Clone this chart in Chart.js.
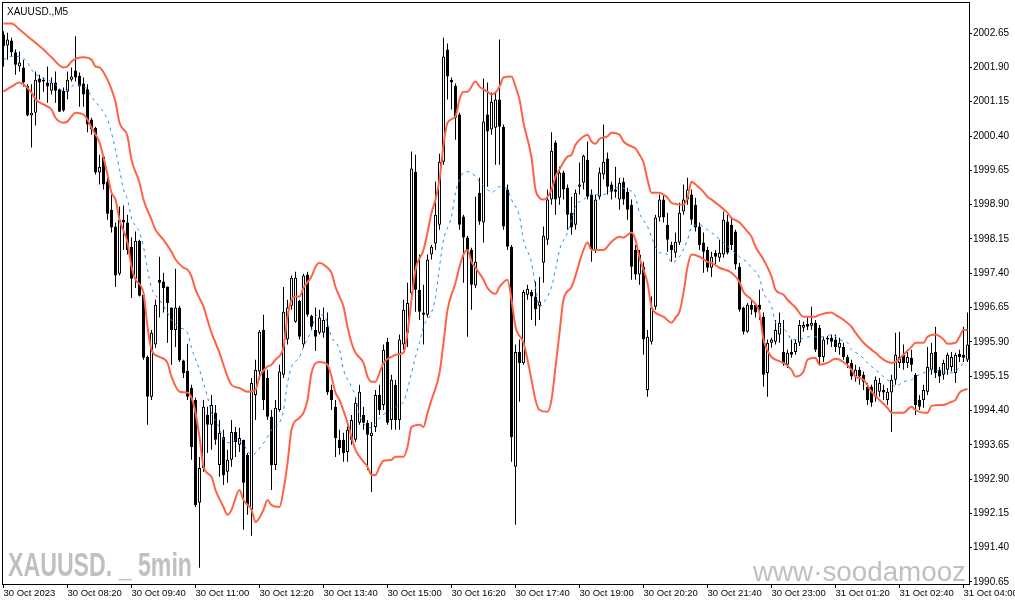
<!DOCTYPE html>
<html>
<head>
<meta charset="utf-8">
<script src="https://cdn.jsdelivr.net/npm/chart.js@4/dist/chart.umd.min.js"></script>
<style>
  html, body { margin: 0; padding: 0; background: #fff; }
</style>
</head>
<body>
<canvas id="goldChart" width="1015" height="605"></canvas>
<script>
// XAUUSD M5 candles, one entry per bar (30 Oct 07:00 -> 31 Oct 04:05)
const opens = [
  2002.62, 2002.38, 2002.49, 2002.23, 2001.92, 2001.90, 2001.50, 2000.85, 2000.91, 2001.66,
  2001.63, 2001.57, 2001.39, 2001.57, 2001.42, 2001.39, 2001.37, 2001.63, 2001.83, 2001.72,
  2001.55, 2001.42, 2000.76, 2000.58, 1999.60, 1999.95, 1999.40, 1998.79, 1998.42, 1997.39,
  1998.57, 1998.51, 1997.98, 1997.28, 1998.11, 1996.93, 1995.57, 1994.70, 1995.84, 1997.26,
  1997.22, 1997.11, 1996.65, 1996.16, 1996.65, 1995.49, 1995.27, 1994.89, 1994.63, 1992.38,
  1993.14, 1994.30, 1994.09, 1994.35, 1993.21, 1993.82, 1993.06, 1993.32, 1993.93, 1993.65,
  1993.76, 1993.43, 1992.23, 1994.74, 1995.25, 1996.16, 1995.11, 1994.26, 1993.21, 1994.41,
  1995.18, 1995.95, 1996.69, 1996.34, 1996.80, 1995.84, 1997.37, 1996.47, 1996.16, 1996.10,
  1996.10, 1996.23, 1994.85, 1994.48, 1993.76, 1993.76, 1993.49, 1993.76, 1993.76, 1994.13,
  1994.30, 1994.13, 1993.84, 1994.04, 1994.74, 1994.52, 1995.90, 1994.19, 1994.96, 1994.19,
  1995.84, 1996.10, 1996.97, 1999.62, 1997.04, 1996.54, 1996.49, 1997.81, 1998.05, 1998.46,
  1999.84, 2002.29, 2001.63, 2001.50, 2000.87, 1998.64, 1998.18, 1997.91, 1997.13, 1999.16,
  1998.51, 2000.87, 2000.54, 2000.58, 2001.20, 2000.60, 1999.23, 1997.98, 1993.17, 1995.68,
  1995.44, 1996.93, 1996.99, 1996.89, 1996.69, 1997.63, 1998.13, 1999.01, 2000.26, 1999.05,
  1999.60, 1999.27, 1998.72, 1998.46, 1999.29, 1999.38, 1999.88, 1999.12, 1997.91, 1999.07,
  1999.56, 1999.91, 1999.34, 1999.23, 1999.01, 1999.40, 1999.18, 1998.90, 1997.91, 1997.37,
  1997.54, 1994.85, 1995.90, 1996.67, 1998.62, 1999.01, 1998.46, 1998.02, 1997.85, 1998.07,
  1998.75, 1999.01, 1999.12, 1998.90, 1998.42, 1998.07, 1997.91, 1997.52, 1997.85, 1997.74,
  1997.81, 1998.53, 1998.46, 1998.31, 1997.54, 1996.65, 1996.12, 1996.71, 1996.71, 1996.71,
  1996.45, 1995.22, 1995.88, 1995.90, 1996.06, 1995.68, 1995.40, 1995.68, 1995.68, 1995.88,
  1996.21, 1996.29, 1996.25, 1996.32, 1996.21, 1995.57, 1995.99, 1995.99, 1995.95, 1995.77,
  1995.79, 1995.57, 1995.44, 1995.14, 1995.29, 1995.18, 1994.92, 1994.92, 1994.70, 1994.81,
  1994.85, 1994.63, 1994.79, 1995.07, 1995.44, 1995.62, 1995.44, 1995.55, 1995.18, 1994.63,
  1994.63, 1994.81, 1995.29, 1995.68, 1995.29, 1995.18, 1995.29, 1995.35, 1995.22, 1995.64,
  1995.62, 1995.51
];
const highs = [
  2002.69, 2002.66, 2002.55, 2002.29, 2002.25, 2002.07, 2001.53, 2001.53, 2001.81, 2001.74,
  2001.68, 2001.92, 2001.68, 2001.81, 2001.44, 2001.46, 2001.81, 2001.90, 2002.58, 2001.79,
  2001.68, 2001.53, 2000.80, 2000.60, 1999.99, 1999.99, 1999.49, 1999.12, 1998.51, 1998.86,
  1998.88, 1998.68, 1998.18, 1998.31, 1998.13, 1996.95, 1995.60, 1996.16, 1996.82, 1997.76,
  1997.41, 1997.11, 1996.65, 1997.50, 1996.69, 1995.51, 1995.86, 1994.96, 1994.68, 1993.38,
  1994.63, 1994.48, 1994.74, 1994.52, 1994.19, 1993.98, 1993.54, 1994.19, 1994.04, 1994.02,
  1993.76, 1993.47, 1995.11, 1995.51, 1996.16, 1996.49, 1995.29, 1994.41, 1994.63, 1995.40,
  1997.10, 1996.82, 1997.35, 1997.43, 1996.82, 1997.39, 1997.43, 1996.49, 1996.65, 1996.60,
  1996.65, 1996.54, 1994.96, 1994.63, 1993.98, 1993.91, 1994.06, 1994.30, 1994.68, 1994.96,
  1994.48, 1994.19, 1994.15, 1994.85, 1994.96, 1995.84, 1995.99, 1995.18, 1995.07, 1996.06,
  1996.82, 1997.19, 2000.06, 1999.99, 1997.81, 1997.15, 1997.81, 1998.02, 1999.40, 2000.01,
  2002.55, 2002.42, 2001.68, 2001.55, 2000.91, 1998.68, 1998.22, 1997.96, 1999.07, 1999.49,
  2001.66, 2001.57, 2001.35, 2001.35, 2002.51, 2000.65, 1999.34, 1998.02, 1995.84, 1995.95,
  1997.04, 1997.15, 1997.04, 1997.22, 1997.32, 1998.42, 1999.23, 2000.48, 2000.30, 1999.73,
  1999.64, 1999.34, 1999.07, 1999.23, 1999.82, 1999.99, 2000.28, 1999.23, 1999.12, 1999.71,
  2000.65, 2000.04, 1999.40, 1999.73, 1999.49, 1999.49, 1999.27, 1999.01, 1998.02, 1997.91,
  1997.65, 1996.16, 1996.89, 1998.68, 1999.12, 1999.12, 1998.72, 1998.09, 1998.29, 1998.94,
  1999.34, 1999.49, 1999.23, 1999.05, 1998.51, 1998.29, 1997.98, 1997.87, 1997.91, 1998.13,
  1998.75, 1998.68, 1998.61, 1998.35, 1997.63, 1996.67, 1996.75, 1996.82, 1996.75, 1997.04,
  1996.54, 1995.95, 1995.99, 1996.38, 1996.54, 1996.38, 1995.73, 1995.95, 1995.95, 1996.38,
  1996.34, 1996.43, 1996.67, 1996.38, 1996.27, 1996.01, 1996.03, 1996.06, 1996.06, 1995.99,
  1995.88, 1995.62, 1995.51, 1995.40, 1995.35, 1995.25, 1995.00, 1994.96, 1995.14, 1995.11,
  1994.96, 1994.89, 1995.18, 1996.10, 1996.12, 1995.84, 1995.73, 1995.73, 1995.22, 1994.74,
  1994.96, 1995.79, 1995.88, 1996.23, 1995.35, 1995.51, 1995.66, 1995.68, 1995.66, 1995.73,
  1996.23, 1996.54
];
const lows = [
  2001.92, 2002.07, 2002.14, 2001.74, 2001.81, 2001.48, 2000.83, 2000.15, 2000.63, 2001.20,
  2001.37, 2001.13, 2001.31, 2001.13, 2000.93, 2000.93, 2001.20, 2001.59, 2001.59, 2001.04,
  2001.04, 2000.48, 2000.43, 1999.56, 1999.34, 1999.23, 1998.57, 1998.29, 1997.10, 1997.35,
  1997.91, 1997.81, 1996.86, 1997.08, 1996.89, 1995.51, 1994.09, 1994.63, 1995.77, 1996.43,
  1996.54, 1995.88, 1995.40, 1995.79, 1995.46, 1995.11, 1994.63, 1993.32, 1992.29, 1990.96,
  1993.06, 1993.47, 1993.54, 1993.65, 1992.95, 1992.77, 1992.82, 1993.17, 1993.38, 1993.49,
  1991.79, 1992.12, 1991.66, 1994.19, 1995.07, 1994.41, 1994.19, 1992.66, 1993.10, 1994.37,
  1995.11, 1995.84, 1996.60, 1996.32, 1995.95, 1995.77, 1996.45, 1996.16, 1995.70, 1996.06,
  1995.99, 1994.74, 1994.41, 1993.38, 1993.43, 1993.28, 1993.28, 1993.65, 1993.71, 1994.09,
  1993.98, 1993.10, 1992.62, 1993.93, 1994.30, 1994.41, 1994.09, 1993.98, 1993.98, 1993.98,
  1995.73, 1995.79, 1996.82, 1996.56, 1996.38, 1995.84, 1996.43, 1997.70, 1997.91, 1998.35,
  1999.77, 2001.20, 2000.98, 2000.32, 1998.35, 1997.19, 1996.01, 1996.60, 1997.08, 1998.46,
  1998.07, 1999.29, 2000.43, 1999.77, 1999.77, 1998.35, 1997.91, 1993.28, 1991.90, 1994.59,
  1995.40, 1996.82, 1996.38, 1996.25, 1996.38, 1997.19, 1998.02, 1998.90, 1998.68, 1998.90,
  1999.01, 1998.35, 1998.24, 1998.35, 1999.12, 1999.23, 1999.01, 1997.65, 1997.85, 1999.01,
  1999.45, 1999.12, 1999.01, 1999.05, 1998.79, 1998.90, 1998.57, 1997.26, 1997.26, 1997.15,
  1995.62, 1994.70, 1995.84, 1996.60, 1998.53, 1998.51, 1997.87, 1997.65, 1997.74, 1998.02,
  1998.68, 1998.90, 1998.46, 1998.31, 1997.91, 1997.41, 1997.43, 1997.32, 1997.59, 1997.65,
  1997.74, 1997.81, 1997.91, 1997.48, 1996.56, 1996.06, 1996.10, 1996.49, 1996.43, 1996.38,
  1994.92, 1994.70, 1995.77, 1995.84, 1995.88, 1995.38, 1995.33, 1995.55, 1995.62, 1995.81,
  1996.12, 1996.16, 1996.16, 1995.68, 1995.40, 1995.46, 1995.84, 1995.79, 1995.68, 1995.62,
  1995.51, 1995.33, 1995.07, 1995.03, 1994.96, 1994.85, 1994.52, 1994.48, 1994.59, 1994.70,
  1994.63, 1994.52, 1993.93, 1994.96, 1995.33, 1995.29, 1995.33, 1995.25, 1994.30, 1994.41,
  1994.46, 1994.74, 1995.18, 1995.11, 1995.00, 1995.07, 1995.18, 1995.25, 1995.00, 1995.46,
  1995.46, 1995.46
];
const closes = [
  2002.36, 2002.51, 2002.23, 2001.96, 2002.01, 2001.57, 2000.85, 2000.91, 2001.63, 2001.57,
  2001.59, 2001.48, 2001.57, 2001.39, 2000.93, 2000.96, 2001.63, 2001.70, 2001.68, 2001.48,
  2001.31, 2000.65, 2000.54, 1999.60, 1999.73, 1999.34, 1998.70, 1998.40, 1997.35, 1998.57,
  1998.51, 1997.91, 1997.28, 1998.11, 1996.91, 1995.55, 1994.70, 1996.10, 1996.71, 1997.19,
  1997.08, 1996.75, 1996.16, 1996.65, 1995.49, 1995.22, 1994.70, 1993.60, 1992.33, 1993.14,
  1994.48, 1994.09, 1994.52, 1993.76, 1993.91, 1992.99, 1993.32, 1993.93, 1993.71, 1993.80,
  1992.82, 1992.33, 1995.00, 1995.29, 1996.12, 1994.63, 1994.26, 1993.21, 1994.46, 1995.25,
  1996.56, 1996.65, 1997.30, 1997.30, 1996.01, 1997.35, 1996.49, 1996.23, 1996.01, 1996.43,
  1996.38, 1994.79, 1994.63, 1993.80, 1993.58, 1993.47, 1993.98, 1994.19, 1994.57, 1994.81,
  1994.13, 1993.87, 1993.91, 1994.74, 1994.41, 1995.73, 1994.13, 1995.07, 1994.19, 1995.95,
  1996.60, 1996.75, 1999.69, 1997.04, 1996.56, 1996.49, 1997.70, 1997.98, 1998.68, 1999.84,
  2002.14, 2001.70, 2001.57, 2000.80, 1998.46, 1998.18, 1997.91, 1997.15, 1997.65, 1998.53,
  2000.72, 2000.50, 2001.15, 2001.20, 2000.60, 1998.42, 1997.98, 1993.82, 1995.68, 1995.44,
  1996.99, 1997.06, 1996.89, 1996.62, 1996.78, 1998.22, 1999.01, 2000.08, 1999.01, 1999.60,
  1999.23, 1998.68, 1998.40, 1999.16, 1999.34, 1999.97, 1999.07, 1997.91, 1999.01, 1999.60,
  1999.84, 1999.29, 1999.18, 1999.18, 1999.38, 1999.01, 1998.79, 1997.54, 1997.37, 1997.81,
  1995.95, 1996.01, 1996.65, 1998.62, 1999.01, 1998.62, 1998.13, 1997.91, 1998.09, 1998.72,
  1999.01, 1999.23, 1998.57, 1998.40, 1998.02, 1997.87, 1997.52, 1997.76, 1997.76, 1997.85,
  1998.57, 1997.85, 1998.02, 1997.59, 1996.60, 1996.12, 1996.71, 1996.60, 1996.54, 1996.60,
  1995.18, 1995.88, 1995.95, 1996.16, 1996.32, 1995.42, 1995.66, 1995.62, 1995.88, 1996.27,
  1996.27, 1996.23, 1996.32, 1995.73, 1995.57, 1995.95, 1995.95, 1995.90, 1995.79, 1995.88,
  1995.57, 1995.44, 1995.14, 1995.29, 1995.14, 1995.03, 1994.63, 1994.57, 1995.07, 1995.00,
  1994.79, 1994.81, 1995.07, 1995.62, 1995.57, 1995.44, 1995.57, 1995.40, 1994.52, 1994.48,
  1994.85, 1995.35, 1995.66, 1995.22, 1995.14, 1995.44, 1995.62, 1995.57, 1995.62, 1995.57,
  1995.55, 1995.84
];

// Bollinger bands: [bar index, price]
const upperBand = [
  [0, 2002.86], [2, 2002.86], [4, 2002.73], [7, 2002.51], [8, 2002.44], [10, 2002.29], [12, 2002.12],
  [15, 2001.90], [16, 2001.92], [17, 2002.03], [20, 2002.12], [22, 2002.07], [23, 2001.92], [24, 2001.90],
  [26, 2001.63], [27, 2001.42], [28, 2001.15], [29, 2000.69], [31, 2000.39], [32, 1999.88], [34, 1999.38],
  [35, 1999.01], [37, 1998.57], [38, 1998.35], [40, 1998.13], [42, 1997.87], [43, 1997.70], [45, 1997.52],
  [46, 1997.48], [47, 1997.33], [48, 1997.04], [50, 1996.67], [51, 1996.38], [52, 1996.10], [54, 1995.66],
  [56, 1995.14], [57, 1994.96], [59, 1994.89], [61, 1994.81], [63, 1994.85], [64, 1995.14], [66, 1995.36],
  [67, 1995.40], [68, 1995.51], [70, 1995.79], [71, 1996.45], [72, 1996.82], [73, 1996.89], [74, 1996.89],
  [75, 1997.08], [77, 1997.33], [78, 1997.54], [79, 1997.63], [80, 1997.59], [81, 1997.52], [82, 1997.41],
  [83, 1997.10], [84, 1996.89], [85, 1996.67], [86, 1996.23], [87, 1995.88], [88, 1995.66], [90, 1995.44],
  [91, 1995.14], [92, 1995.03], [93, 1995.03], [94, 1995.22], [95, 1995.44], [97, 1995.57], [98, 1995.62],
  [100, 1995.66], [101, 1996.10], [102, 1996.82], [103, 1997.48], [105, 1997.91], [106, 1998.29], [107, 1998.72],
  [108, 1999.01], [109, 1999.45], [110, 2000.21], [111, 2000.69], [113, 2000.83], [114, 2001.20], [115, 2001.37],
  [116, 2001.37], [118, 2001.59], [119, 2001.48], [121, 2001.37], [122, 2001.31], [123, 2001.35], [124, 2001.48],
  [125, 2001.68], [127, 2001.70], [128, 2001.48], [129, 2001.20], [130, 2000.69], [132, 1999.93], [133, 1999.23],
  [134, 1999.05], [135, 1999.01], [137, 1999.23], [138, 1999.51], [139, 1999.67], [141, 1999.95], [142, 1999.99],
  [143, 2000.21], [145, 2000.39], [146, 2000.43], [147, 2000.28], [148, 2000.23], [149, 2000.34], [151, 2000.39],
  [152, 2000.47], [154, 2000.43], [155, 2000.28], [157, 2000.17], [158, 2000.13], [159, 1999.99], [160, 1999.82],
  [161, 1999.45], [162, 1999.16], [164, 1999.16], [165, 1999.12], [166, 1999.05], [167, 1998.94], [170, 1998.90],
  [171, 1999.05], [172, 1999.40], [173, 1999.34], [175, 1999.18], [176, 1999.07], [177, 1999.01], [181, 1998.72],
  [182, 1998.61], [184, 1998.51], [186, 1998.31], [187, 1998.20], [188, 1997.98], [190, 1997.70], [192, 1997.33],
  [193, 1997.04], [195, 1996.93], [196, 1996.82], [198, 1996.65], [200, 1996.45], [203, 1996.45], [204, 1996.49],
  [207, 1996.54], [208, 1996.49], [210, 1996.38], [212, 1996.23], [213, 1996.10], [215, 1995.88], [217, 1995.73],
  [218, 1995.66], [220, 1995.51], [222, 1995.44], [223, 1995.46], [225, 1995.62], [227, 1995.79], [228, 1995.88],
  [230, 1995.88], [231, 1996.01], [233, 1996.06], [235, 1995.95], [236, 1995.86], [238, 1995.88], [239, 1996.01],
  [240, 1996.16], [241, 1996.16]
];
const middleBand = [
  [0, 2002.07], [2, 2002.14], [4, 2002.14], [6, 2002.01], [7, 2001.85], [9, 2001.70], [11, 2001.63],
  [13, 2001.53], [15, 2001.37], [17, 2001.48], [18, 2001.53], [20, 2001.48], [21, 2001.42], [22, 2001.26],
  [24, 2001.04], [26, 2000.76], [27, 2000.47], [28, 2000.10], [29, 1999.67], [30, 1999.23], [31, 1999.01],
  [32, 1998.61], [34, 1998.29], [35, 1997.98], [36, 1997.48], [37, 1997.08], [39, 1996.82], [41, 1996.54],
  [42, 1996.38], [44, 1996.21], [46, 1996.10], [47, 1995.77], [49, 1995.29], [50, 1995.00], [51, 1994.70],
  [52, 1994.35], [54, 1994.02], [55, 1993.76], [57, 1993.69], [58, 1993.76], [60, 1993.65], [62, 1993.43],
  [63, 1993.47], [65, 1993.69], [66, 1993.82], [67, 1993.98], [69, 1994.13], [70, 1994.41], [71, 1995.00],
  [72, 1995.35], [74, 1995.57], [75, 1995.79], [77, 1996.16], [78, 1996.45], [79, 1996.49], [80, 1996.49],
  [81, 1996.32], [82, 1996.01], [84, 1995.73], [85, 1995.29], [87, 1994.92], [88, 1994.70], [89, 1994.30],
  [92, 1994.02], [93, 1994.13], [94, 1994.24], [96, 1994.37], [98, 1994.48], [100, 1994.59], [102, 1995.22],
  [103, 1995.57], [104, 1995.88], [105, 1996.23], [107, 1996.54], [108, 1996.89], [109, 1997.54], [110, 1998.13],
  [112, 1998.64], [113, 1999.16], [114, 1999.45], [115, 1999.60], [116, 1999.62], [117, 1999.60], [119, 1999.40],
  [121, 1999.23], [122, 1999.16], [124, 1999.29], [126, 1999.23], [127, 1999.01], [129, 1998.64], [130, 1998.13],
  [132, 1997.63], [133, 1997.10], [134, 1996.67], [135, 1996.75], [137, 1997.10], [138, 1997.48], [139, 1997.91],
  [141, 1998.29], [142, 1998.57], [143, 1998.86], [145, 1999.01], [147, 1999.12], [150, 1999.12], [153, 1999.27],
  [156, 1999.23], [158, 1999.07], [159, 1998.72], [161, 1998.42], [163, 1997.98], [164, 1997.85], [166, 1997.81],
  [167, 1997.63], [169, 1997.76], [171, 1998.13], [172, 1998.40], [174, 1998.46], [176, 1998.35], [177, 1998.29],
  [180, 1998.07], [182, 1997.91], [184, 1997.76], [186, 1997.63], [187, 1997.52], [189, 1997.30], [190, 1996.97],
  [192, 1996.67], [193, 1996.32], [194, 1996.23], [196, 1996.10], [197, 1995.95], [199, 1995.95], [201, 1996.01],
  [203, 1996.01], [205, 1996.01], [207, 1996.06], [209, 1995.95], [211, 1995.88], [212, 1995.73], [214, 1995.62],
  [216, 1995.44], [218, 1995.29], [220, 1995.14], [222, 1995.00], [223, 1994.92], [225, 1995.03], [227, 1995.07],
  [228, 1995.14], [230, 1995.22], [232, 1995.29], [235, 1995.24], [237, 1995.22], [239, 1995.33], [240, 1995.44],
  [241, 1995.51]
];
const lowerBand = [
  [0, 2001.37], [2, 2001.48], [4, 2001.57], [5, 2001.53], [7, 2001.35], [8, 2001.20], [10, 2001.09],
  [12, 2000.98], [13, 2000.80], [15, 2000.69], [16, 2000.72], [17, 2000.83], [18, 2000.91], [20, 2000.87],
  [21, 2000.76], [22, 2000.58], [24, 2000.26], [25, 1999.93], [26, 1999.56], [27, 1999.16], [28, 1999.01],
  [29, 1998.57], [31, 1998.07], [32, 1997.54], [33, 1997.26], [35, 1996.97], [36, 1996.23], [37, 1995.73],
  [39, 1995.57], [41, 1995.44], [42, 1995.14], [44, 1994.81], [46, 1994.79], [47, 1994.68], [48, 1994.35],
  [49, 1993.82], [50, 1993.17], [52, 1992.95], [53, 1992.66], [55, 1992.29], [56, 1992.12], [57, 1992.23],
  [59, 1992.66], [60, 1992.44], [62, 1992.23], [63, 1991.96], [65, 1992.23], [66, 1992.44], [67, 1992.33],
  [69, 1992.29], [70, 1992.66], [71, 1993.25], [72, 1993.98], [74, 1994.24], [75, 1994.35], [76, 1994.63],
  [77, 1995.22], [79, 1995.46], [81, 1995.40], [82, 1995.14], [83, 1994.79], [84, 1994.63], [86, 1994.13],
  [88, 1993.54], [90, 1993.28], [91, 1993.17], [92, 1992.99], [93, 1992.99], [94, 1993.17], [95, 1993.30],
  [97, 1993.32], [98, 1993.39], [100, 1993.39], [101, 1993.60], [102, 1994.04], [104, 1994.09], [105, 1994.04],
  [106, 1994.35], [107, 1994.63], [109, 1995.22], [110, 1995.88], [111, 1996.60], [113, 1997.19], [114, 1997.54],
  [115, 1997.81], [116, 1997.91], [117, 1997.65], [118, 1997.52], [120, 1997.26], [121, 1997.08], [123, 1996.95],
  [124, 1997.10], [126, 1997.26], [127, 1996.82], [128, 1996.23], [130, 1995.88], [131, 1995.51], [132, 1995.07],
  [133, 1994.63], [134, 1994.41], [136, 1994.37], [137, 1994.63], [138, 1995.35], [139, 1996.10], [140, 1996.82],
  [142, 1997.10], [145, 1997.91], [146, 1998.07], [147, 1997.91], [150, 1997.91], [152, 1998.09], [154, 1998.20],
  [155, 1998.18], [157, 1998.29], [158, 1998.13], [159, 1997.74], [161, 1997.19], [162, 1996.67], [164, 1996.49],
  [165, 1996.45], [167, 1996.32], [168, 1996.43], [169, 1996.56], [170, 1996.97], [171, 1997.54], [172, 1997.81],
  [174, 1997.76], [176, 1997.65], [177, 1997.63], [179, 1997.52], [182, 1997.41], [184, 1997.21], [185, 1996.99],
  [187, 1996.82], [189, 1996.53], [190, 1995.95], [192, 1995.57], [193, 1995.51], [195, 1995.44], [197, 1995.29],
  [198, 1995.14], [200, 1995.25], [201, 1995.51], [203, 1995.55], [204, 1995.40], [206, 1995.44], [208, 1995.53],
  [210, 1995.46], [212, 1995.29], [213, 1995.14], [215, 1995.07], [217, 1994.81], [219, 1994.63], [221, 1994.46],
  [222, 1994.35], [224, 1994.35], [225, 1994.35], [227, 1994.48], [228, 1994.41], [230, 1994.35], [231, 1994.35],
  [232, 1994.50], [235, 1994.52], [236, 1994.55], [237, 1994.59], [238, 1994.63], [239, 1994.79], [241, 1994.87]
];

// axis labels
const tickBars = [0, 16, 32, 48, 64, 80, 96, 112, 128, 144, 160, 176, 192, 208, 224, 240];
const tickLabels = [
  '30 Oct 2023', '30 Oct 08:20', '30 Oct 09:40', '30 Oct 11:00', '30 Oct 12:20', '30 Oct 13:40',
  '30 Oct 15:00', '30 Oct 16:20', '30 Oct 17:40', '30 Oct 19:00', '30 Oct 20:20', '30 Oct 21:40',
  '30 Oct 23:00', '31 Oct 01:20', '31 Oct 02:40', '31 Oct 04:00'
];
const priceTicks = [
  1990.65, 1991.40, 1992.15, 1992.90, 1993.65, 1994.40, 1995.15, 1995.90,
  1996.65, 1997.40, 1998.15, 1998.90, 1999.65, 2000.40, 2001.15, 2001.90, 2002.65
];

const FONT = 'Liberation Sans';
const toPoints = band => band.map(p => ({ x: p[0], y: p[1] }));

const decor = {
    id: 'decor',
    beforeDatasetsDraw(chart) {
        const { ctx, chartArea: a } = chart;
        ctx.save();
        ctx.beginPath();
        ctx.rect(a.left, a.top, a.right - a.left, a.bottom - a.top);
        ctx.clip();
        ctx.fillStyle = '#c0c0c0';
        // symbol watermark, condensed bold
        ctx.font = 'bold 34px "' + FONT + '"';
        const t1 = 'XAUUSD. _ 5min';
        const w1 = ctx.measureText(t1).width;
        ctx.save();
        ctx.translate(8, 576);
        ctx.scale(184 / w1, 1);
        ctx.fillText(t1, 0, 0);
        ctx.restore();
        // site watermark, cut off by the price axis
        ctx.font = '28px "' + FONT + '"';
        const t2 = 'www\u00b7soodamooz';
        const w2 = ctx.measureText(t2).width;
        ctx.save();
        ctx.translate(753, 581);
        ctx.scale(213 / w2, 1);
        ctx.fillText(t2 + '\u00b7com', 0, 0);
        ctx.restore();
        ctx.restore();
    },
    afterDraw(chart) {
        const { ctx, chartArea: a } = chart;
        ctx.save();
        ctx.strokeStyle = '#000';
        ctx.lineWidth = 1;
        ctx.strokeRect(a.left + 0.5, a.top + 0.5, a.right - a.left, a.bottom - a.top);
        ctx.fillStyle = '#000';
        ctx.font = '10px "' + FONT + '"';
        ctx.textBaseline = 'alphabetic';
        ctx.fillText('XAUUSD.,M5', 7, 15);
        ctx.restore();
    }
};

const ctx = document.getElementById('goldChart').getContext('2d');

new Chart(ctx, {
    type: 'bar',
    data: {
        datasets: [
            {
                type: 'line',
                label: 'Upper',
                data: toPoints(upperBand),
                borderColor: 'rgb(255, 99, 71)',
                borderWidth: 2,
                pointRadius: 0,
                cubicInterpolationMode: 'monotone',
                order: 0
            },
            {
                type: 'line',
                label: 'Lower',
                data: toPoints(lowerBand),
                borderColor: 'rgb(255, 99, 71)',
                borderWidth: 2,
                pointRadius: 0,
                cubicInterpolationMode: 'monotone',
                order: 0
            },
            {
                type: 'line',
                label: 'Middle',
                data: toPoints(middleBand),
                borderColor: 'rgb(30, 144, 255)',
                borderWidth: 1,
                borderDash: [3, 4],
                pointRadius: 0,
                cubicInterpolationMode: 'monotone',
                order: 0
            },
            {
                label: 'Body',
                data: opens.map((o, i) => ({ x: i, y: [o, closes[i]] })),
                backgroundColor: opens.map((o, i) => closes[i] >= o ? '#ffffff' : '#000000'),
                borderColor: '#000000',
                borderWidth: 1,
                borderSkipped: false,
                barThickness: 3,
                minBarLength: 1,
                inflateAmount: 0,
                grouped: false,
                order: 1
            },
            {
                label: 'Wick',
                data: highs.map((h, i) => ({ x: i, y: [lows[i], h] })),
                backgroundColor: '#000000',
                borderWidth: 0,
                barThickness: 1,
                inflateAmount: 0,
                grouped: false,
                order: 2
            }
        ]
    },
    options: {
        responsive: false,
        animation: false,
        layout: { padding: { left: 2, top: 2, right: 0, bottom: 0 } },
        plugins: {
            legend: { display: false },
            tooltip: { enabled: false }
        },
        scales: {
            x: {
                type: 'linear',
                min: -0.375,
                max: 241.375,
                offset: false,
                border: { display: false },
                grid: { display: true, drawOnChartArea: false, tickLength: 4, color: '#000', offset: false },
                ticks: {
                    autoSkip: false,
                    maxRotation: 0,
                    minRotation: 0,
                    align: 'start',
                    padding: 0,
                    color: '#000',
                    font: { family: FONT, size: 9.5 },
                    callback: v => tickLabels[tickBars.indexOf(v)] || ''
                },
                afterBuildTicks: s => { s.ticks = tickBars.map(v => ({ value: v })); },
                afterFit: s => { s.height = 21; s.paddingLeft = 0; s.paddingRight = 0; }
            },
            y: {
                position: 'right',
                min: 1990.606,
                max: 2003.33,
                border: { display: false },
                grid: { display: true, drawOnChartArea: false, tickLength: 3, color: '#000' },
                ticks: {
                    padding: 1,
                    color: '#000',
                    font: { family: FONT, size: 10 },
                    callback: v => v.toFixed(2)
                },
                afterBuildTicks: s => { s.ticks = priceTicks.map(v => ({ value: v })); },
                afterFit: s => { s.width = 46; s.paddingTop = 0; s.paddingBottom = 0; }
            }
        }
    },
    plugins: [decor]
});
</script>
</body>
</html>
